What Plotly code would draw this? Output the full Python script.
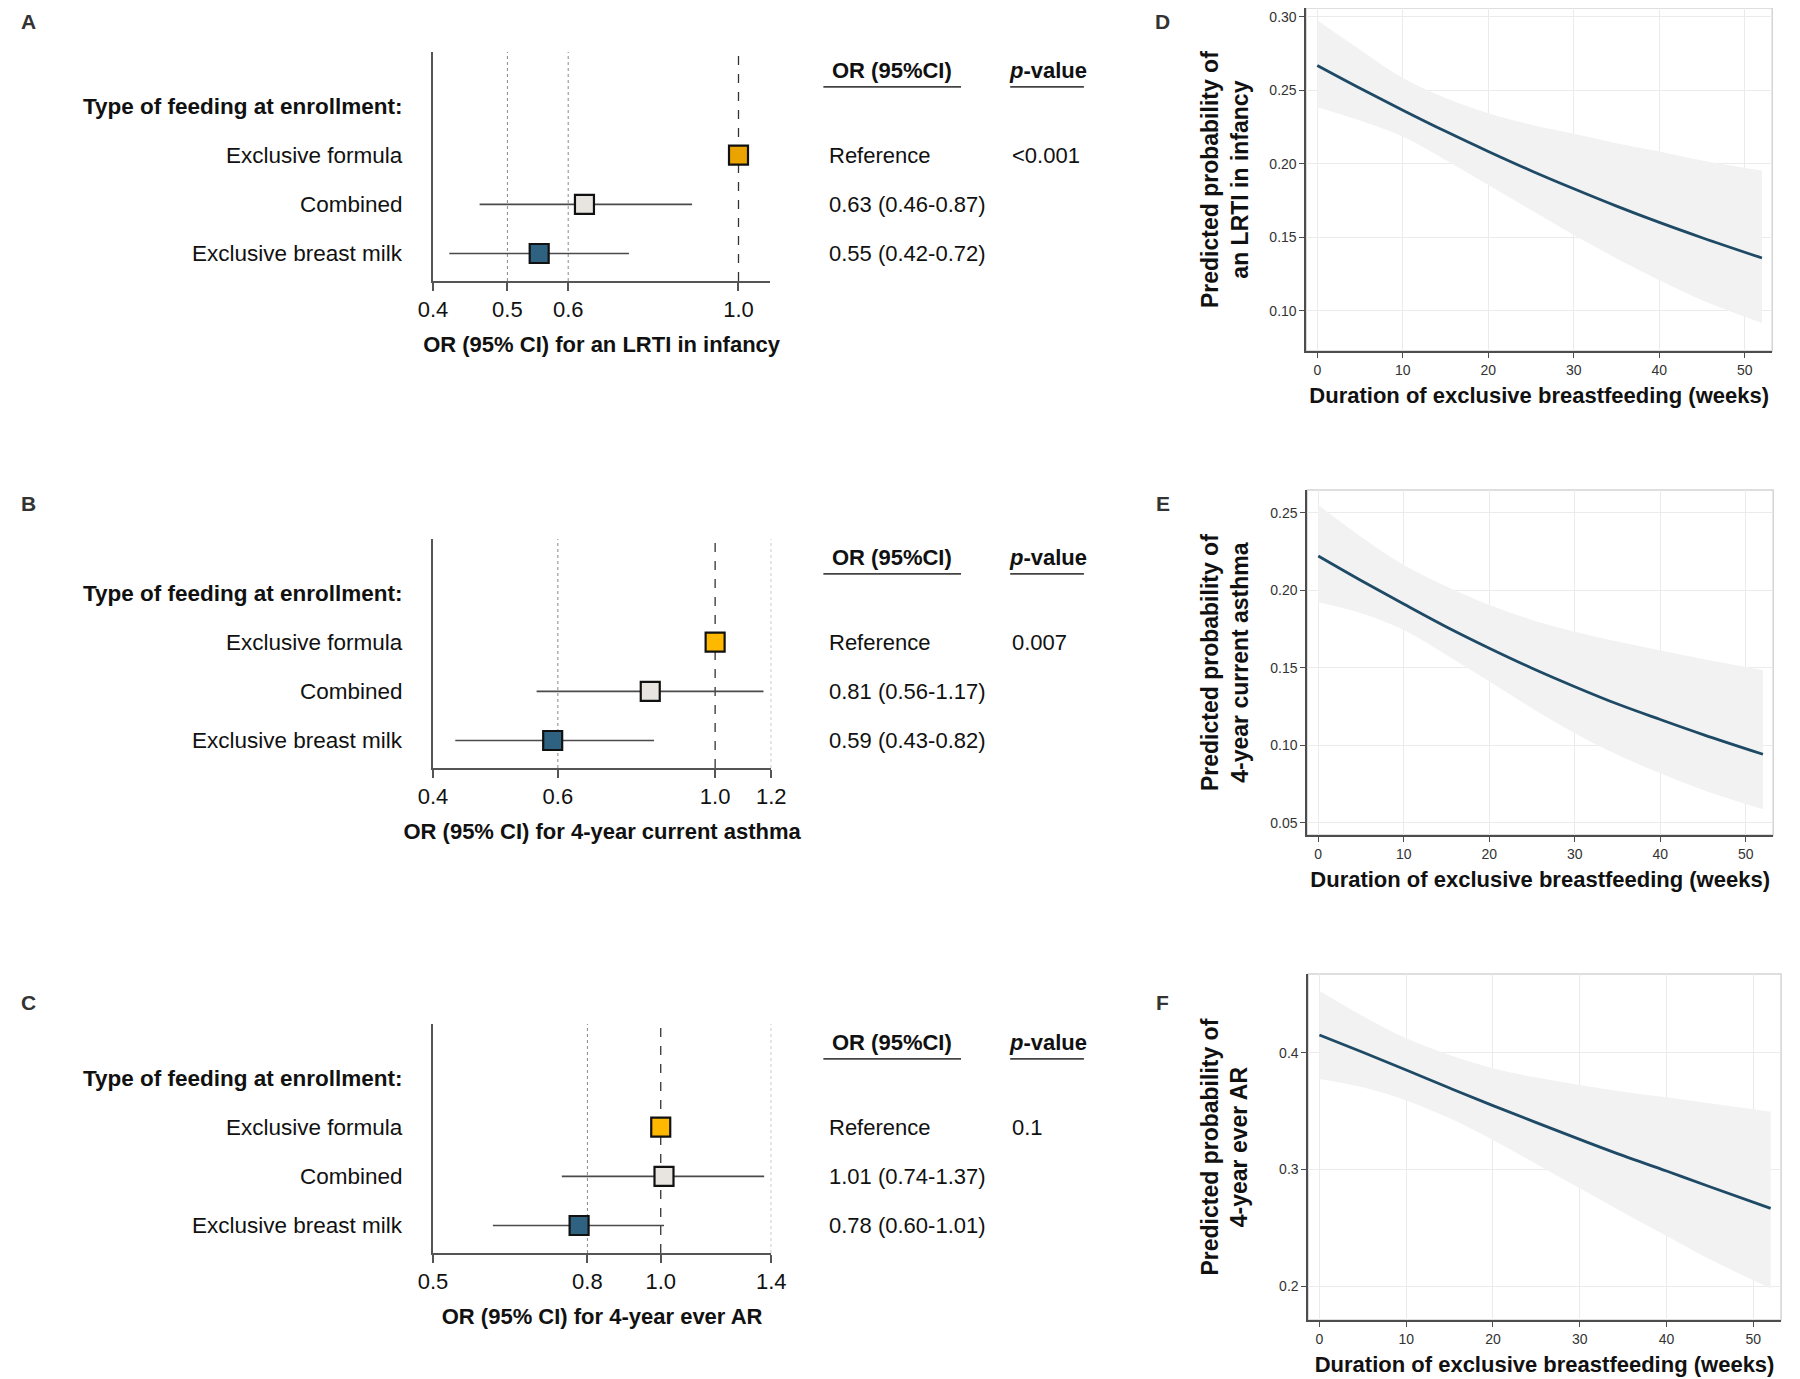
import math
import plotly.graph_objects as go

# page is rendered with an 8px body margin, so work in target pixels and shift
OFF = 8
W, H = 1800 - OFF, 1379 - OFF
FONT = "Liberation Sans, Arial, Helvetica, sans-serif"
TXT = "#111111"

# ---------------- Forest plot data (panels A-C) ----------------
rows = ["Exclusive formula", "Combined", "Exclusive breast milk"]
row_pos = [3, 2, 1]
header_label = "Type of feeding at enrollment:"
row_colors_A = ["#EBA300", "#E8E4DF", "#2F6281"]
row_colors_BC = ["#FFB800", "#E8E4DF", "#2F6281"]

or_A = [1.00, 0.63, 0.55]
lo_A = [None, 0.46, 0.42]
hi_A = [None, 0.87, 0.72]
txt_A = ["Reference", "0.63 (0.46-0.87)", "0.55 (0.42-0.72)"]
p_A = "&lt;0.001"
ticks_A = [0.4, 0.5, 0.6, 1.0]
ticktext_A = ["0.4", "0.5", "0.6", "1.0"]
dotted_A = [0.5, 0.6]
range_A = [0.4, 1.1]
xtitle_A = "OR (95% CI) for an LRTI in infancy"

or_B = [1.00, 0.81, 0.59]
lo_B = [None, 0.56, 0.43]
hi_B = [None, 1.17, 0.82]
txt_B = ["Reference", "0.81 (0.56-1.17)", "0.59 (0.43-0.82)"]
p_B = "0.007"
ticks_B = [0.4, 0.6, 1.0, 1.2]
ticktext_B = ["0.4", "0.6", "1.0", "1.2"]
dotted_B = [0.6, 1.2]
range_B = [0.4, 1.2]
xtitle_B = "OR (95% CI) for 4-year current asthma"

or_C = [1.00, 1.01, 0.78]
lo_C = [None, 0.74, 0.60]
hi_C = [None, 1.37, 1.01]
txt_C = ["Reference", "1.01 (0.74-1.37)", "0.78 (0.60-1.01)"]
p_C = "0.1"
ticks_C = [0.5, 0.8, 1.0, 1.4]
ticktext_C = ["0.5", "0.8", "1.0", "1.4"]
dotted_C = [0.8, 1.4]
range_C = [0.5, 1.4]
xtitle_C = "OR (95% CI) for 4-year ever AR"

# ---------------- Predicted probability data (panels D-F) ----------------
weeks = [0, 5, 10, 15, 20, 25, 30, 35, 40, 45, 52]

fit_D = [0.2670, 0.2515, 0.2366, 0.2222, 0.2085, 0.1954, 0.1831, 0.1713, 0.1602, 0.1498, 0.1360]
upr_D = [0.2977, 0.2777, 0.2584, 0.2448, 0.2345, 0.2266, 0.2205, 0.2141, 0.2084, 0.2023, 0.1955]
lwr_D = [0.2386, 0.2295, 0.2186, 0.2027, 0.1857, 0.1686, 0.1516, 0.1357, 0.1209, 0.1073, 0.0918]

fit_E = [0.2220, 0.2062, 0.1910, 0.1762, 0.1625, 0.1496, 0.1377, 0.1265, 0.1165, 0.1068, 0.0941]
upr_E = [0.2549, 0.2345, 0.2162, 0.2023, 0.1904, 0.1808, 0.1732, 0.1668, 0.1610, 0.1556, 0.1485]
lwr_E = [0.1921, 0.1851, 0.1743, 0.1582, 0.1410, 0.1238, 0.1076, 0.0937, 0.0818, 0.0711, 0.0586]

fit_F = [0.4151, 0.4003, 0.3851, 0.3697, 0.3546, 0.3400, 0.3257, 0.3117, 0.2986, 0.2851, 0.2666]
upr_F = [0.4531, 0.4314, 0.4123, 0.3980, 0.3866, 0.3786, 0.3723, 0.3666, 0.3617, 0.3566, 0.3494]
lwr_F = [0.3774, 0.3703, 0.3589, 0.3437, 0.3251, 0.3046, 0.2837, 0.2631, 0.2429, 0.2229, 0.1980]

ticks_D = [0.10, 0.15, 0.20, 0.25, 0.30]
ticks_E = [0.05, 0.10, 0.15, 0.20, 0.25]
ticks_F = [0.2, 0.3, 0.4]
ticks_weeks = [0, 10, 20, 30, 40, 50]
ytitle_D = "Predicted probability of<br>an LRTI in infancy"
ytitle_E = "Predicted probability of<br>4-year current asthma"
ytitle_F = "Predicted probability of<br>4-year ever AR"
xtitle_curve = "Duration of exclusive breastfeeding (weeks)"


def px(x):
    return min(max((x - OFF) / W, 0.0), 1.0)


def py(y):
    return min(max(1 - (y - OFF) / H, 0.0), 1.0)


fig = go.Figure()
annotations = []
shapes = []

forest_panels = [
    dict(ax="", letter="A", orv=or_A, lo=lo_A, hi=hi_A, txt=txt_A, p=p_A, ticks=ticks_A,
         ticktext=ticktext_A, dotted=dotted_A, rng=range_A, title=xtitle_A,
         colors=row_colors_A, box=(425, 768, 52, 281), lab=(14, 21)),
    dict(ax="2", letter="B", orv=or_B, lo=lo_B, hi=hi_B, txt=txt_B, p=p_B, ticks=ticks_B,
         ticktext=ticktext_B, dotted=dotted_B, rng=range_B, title=xtitle_B,
         colors=row_colors_BC, box=(425, 769, 539, 768), lab=(14, 503)),
    dict(ax="3", letter="C", orv=or_C, lo=lo_C, hi=hi_C, txt=txt_C, p=p_C, ticks=ticks_C,
         ticktext=ticktext_C, dotted=dotted_C, rng=range_C, title=xtitle_C,
         colors=row_colors_BC, box=(425, 769, 1024, 1253), lab=(14, 1002)),
]

YR = [0.44, 5.1]
LBL = 22.5

for P in forest_panels:
    a = P["ax"]
    xa, ya = "x" + a, "y" + a
    for r, l, h in zip(row_pos, P["lo"], P["hi"]):
        if l is None:
            continue
        fig.add_trace(go.Scatter(x=[l, h], y=[r, r], mode="lines", xaxis=xa, yaxis=ya,
                                 line=dict(color="#4a4a4a", width=1.6), showlegend=False,
                                 hoverinfo="skip"))
    fig.add_trace(go.Scatter(x=P["orv"], y=row_pos, mode="markers", xaxis=xa, yaxis=ya,
                             marker=dict(symbol="square", size=19, color=P["colors"],
                                         line=dict(color="#111111", width=2.2)),
                             showlegend=False))
    x0, x1, y0, y1 = P["box"]
    fig.layout["xaxis" + a] = dict(
        domain=[px(x0), px(x1)], type="log",
        range=[math.log10(P["rng"][0]), math.log10(P["rng"][1])],
        tickvals=P["ticks"], ticktext=P["ticktext"], showgrid=False, zeroline=False,
        showline=True, linecolor="#555555", linewidth=2, ticks="outside", ticklen=8,
        tickwidth=1.5, tickcolor="#555555", anchor=ya,
        tickfont=dict(family=FONT, size=22, color=TXT),
        title=dict(text="<b>" + P["title"] + "</b>", standoff=15,
                   font=dict(family=FONT, size=22, color=TXT)))
    fig.layout["yaxis" + a] = dict(
        domain=[py(y1), py(y0)], range=YR, showgrid=False, zeroline=False,
        showline=True, linecolor="#555555", linewidth=2, showticklabels=False,
        ticks="", anchor=xa)

    for v in P["dotted"]:
        shapes.append(dict(type="line", xref=xa, yref=ya + " domain", x0=v, x1=v, y0=0, y1=1,
                           line=dict(color="#8a8a8a", width=1, dash="dot"), layer="below"))
    shapes.append(dict(type="line", xref=xa, yref=ya + " domain", x0=1.0, x1=1.0, y0=0, y1=1,
                       line=dict(color="#333333", width=1.3, dash="dash"), layer="below"))

    annotations.append(dict(text="<b>" + header_label + "</b>", xref="paper", yref=ya,
                            x=px(397), y=4, xanchor="right", yanchor="middle", showarrow=False,
                            font=dict(family=FONT, size=LBL, color=TXT)))
    for r, name, t in zip(row_pos, rows, P["txt"]):
        annotations.append(dict(text=name, xref="paper", yref=ya, x=px(397), y=r,
                                xanchor="right", yanchor="middle", showarrow=False,
                                font=dict(family=FONT, size=LBL, color=TXT)))
        annotations.append(dict(text=t, xref="paper", yref=ya, x=px(826), y=r,
                                xanchor="left", yanchor="middle", showarrow=False,
                                font=dict(family=FONT, size=22, color=TXT)))
    annotations.append(dict(text=P["p"], xref="paper", yref=ya, x=px(1012), y=3,
                            xanchor="left", yanchor="middle", showarrow=False,
                            font=dict(family=FONT, size=22, color=TXT)))
    annotations.append(dict(text="<b>OR (95%CI)</b>", xref="paper", yref=ya, x=px(892), y=4.73,
                            xanchor="center", yanchor="middle", showarrow=False,
                            font=dict(family=FONT, size=22, color=TXT)))
    annotations.append(dict(text="<b><i>p</i>-value</b>", xref="paper", yref=ya, x=px(1050),
                            y=4.73, xanchor="center", yanchor="middle", showarrow=False,
                            font=dict(family=FONT, size=22, color=TXT)))
    shapes.append(dict(type="line", xref="paper", yref=ya, x0=px(822), x1=px(962), y0=4.39,
                       y1=4.39, line=dict(color="#444444", width=1.6)))
    shapes.append(dict(type="line", xref="paper", yref=ya, x0=px(1012), x1=px(1087), y0=4.39,
                       y1=4.39, line=dict(color="#444444", width=1.6)))
    lx, ly = P["lab"]
    annotations.append(dict(text="<b>" + P["letter"] + "</b>", xref="paper", yref="paper",
                            x=px(lx), y=py(ly), xanchor="center", yanchor="middle",
                            showarrow=False, font=dict(family=FONT, size=21, color="#333333")))

curve_panels = [
    dict(ax="4", letter="D", fit=fit_D, upr=upr_D, lwr=lwr_D, ticks=ticks_D, fmt=".2f",
         yr=[0.0727, 0.3061], ytitle=ytitle_D, box=(1313, 1787, 8, 351), lab=(1167, 21)),
    dict(ax="5", letter="E", fit=fit_E, upr=upr_E, lwr=lwr_E, ticks=ticks_E, fmt=".2f",
         yr=[0.042, 0.2646], ytitle=ytitle_E, box=(1314, 1788, 490, 835), lab=(1167, 503)),
    dict(ax="6", letter="F", fit=fit_F, upr=upr_F, lwr=lwr_F, ticks=ticks_F, fmt=".1f",
         yr=[0.1709, 0.4674], ytitle=ytitle_F, box=(1315, 1796, 974, 1320), lab=(1167, 1002)),
]

for P in curve_panels:
    a = P["ax"]
    xa, ya = "x" + a, "y" + a
    fig.add_trace(go.Scatter(x=weeks, y=P["upr"], mode="lines", xaxis=xa, yaxis=ya,
                             line=dict(width=0, shape="spline", color="rgba(0,0,0,0)"),
                             showlegend=False, hoverinfo="skip"))
    fig.add_trace(go.Scatter(x=weeks, y=P["lwr"], mode="lines", xaxis=xa, yaxis=ya,
                             line=dict(width=0, shape="spline", color="rgba(0,0,0,0)"),
                             fill="tonexty", fillcolor="#F2F2F2", showlegend=False,
                             hoverinfo="skip"))
    fig.add_trace(go.Scatter(x=weeks, y=P["fit"], mode="lines", xaxis=xa, yaxis=ya,
                             line=dict(width=2.8, shape="spline", color="#1E4A66"),
                             showlegend=False))
    x0, x1, y0, y1 = P["box"]
    fig.layout["xaxis" + a] = dict(
        domain=[px(x0), px(x1)], range=[-1.3, 53.2], tickvals=ticks_weeks, anchor=ya,
        showgrid=True, gridcolor="#EBEBEB", gridwidth=1, zeroline=False, showline=True,
        linecolor="#4d4d4d", linewidth=1.5, ticks="outside", ticklen=5, tickwidth=1,
        tickcolor="#4d4d4d", tickfont=dict(family=FONT, size=14, color="#333333"),
        title=dict(text="<b>" + xtitle_curve + "</b>", standoff=11,
                   font=dict(family=FONT, size=22, color=TXT)))
    fig.layout["yaxis" + a] = dict(
        domain=[py(y1), py(y0)], range=P["yr"], tickvals=P["ticks"], tickformat=P["fmt"],
        anchor=xa, showgrid=True, gridcolor="#EBEBEB", gridwidth=1, zeroline=False,
        showline=True, linecolor="#4d4d4d", linewidth=1.5, ticks="outside", ticklen=5,
        tickwidth=1, tickcolor="#4d4d4d", tickfont=dict(family=FONT, size=14, color="#333333"))
    shapes.append(dict(type="rect", xref=xa + " domain", yref=ya + " domain", x0=0, x1=1,
                       y0=0, y1=1, line=dict(color="#D4D4D4", width=1.5), layer="below"))
    annotations.append(dict(text="<b>" + P["ytitle"] + "</b>", xref="paper", yref="paper",
                            x=px(1230), y=(py(y0) + py(y1)) / 2, xanchor="center",
                            yanchor="middle", textangle=-90, showarrow=False,
                            font=dict(family=FONT, size=23, color=TXT)))
    lx, ly = P["lab"]
    annotations.append(dict(text="<b>" + P["letter"] + "</b>", xref="paper", yref="paper",
                            x=px(lx), y=py(ly), xanchor="center", yanchor="middle",
                            showarrow=False, font=dict(family=FONT, size=21, color="#333333")))

fig.update_layout(width=W, height=H, margin=dict(l=0, r=0, t=0, b=0),
                  paper_bgcolor="white", plot_bgcolor="white",
                  font=dict(family=FONT, color=TXT), showlegend=False,
                  annotations=annotations, shapes=shapes)

fig.write_html("out.html")
